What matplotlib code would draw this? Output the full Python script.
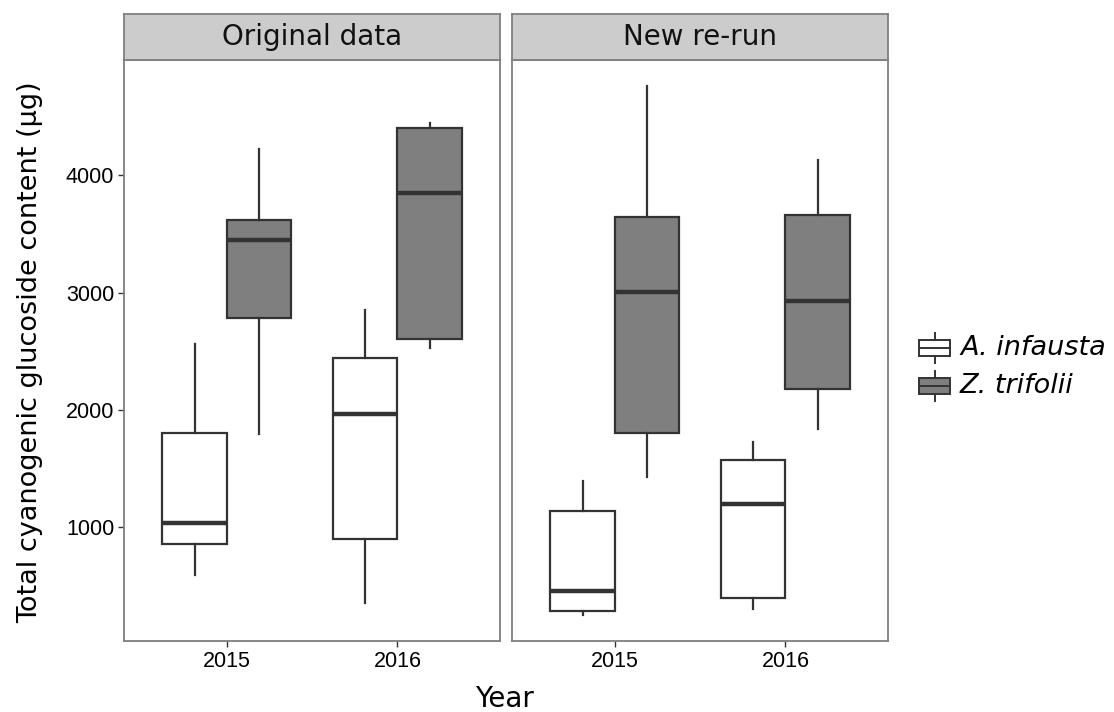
import matplotlib
matplotlib.use("Agg")
import matplotlib.pyplot as plt
from matplotlib.patches import Rectangle

# five-number summaries per year [2015, 2016]: whisker low, Q1, median, Q3, whisker high
panels = ["Original data", "New re-run"]
years = ["2015", "2016"]
species = ["A. infausta", "Z. trifolii"]

orig_infausta = [[588, 852, 1034, 1805, 2564], [352, 901, 1967, 2442, 2855]]
orig_trifolii = [[1791, 2786, 3452, 3616, 4228], [2530, 2607, 3849, 4407, 4446]]
rerun_infausta = [[253, 283, 451, 1140, 1390], [298, 394, 1194, 1575, 1725]]
rerun_trifolii = [[1427, 1805, 3005, 3644, 4759], [1839, 2175, 2928, 3659, 4128]]

yticks = [1000, 2000, 3000, 4000]
fills = ["white", "#7F7F7F"]
line_col = "#333333"
border_col = "#7F7F7F"

W, H = 1114, 712
fig = plt.figure(figsize=(W / 100, H / 100), dpi=100)

all_vals = [v for grp in (orig_infausta, orig_trifolii, rerun_infausta, rerun_trifolii) for s in grp for v in s]
lo, hi = min(all_vals), max(all_vals)
pad = (hi - lo) * 0.05


def make_stats(summary):
    out = []
    for wl, q1, med, q3, wh in summary:
        out.append(dict(whislo=wl, q1=q1, med=med, q3=q3, whishi=wh, fliers=[]))
    return out


def draw_panel(left_px, title, data_sets, show_y):
    ax = fig.add_axes([left_px / W, (H - 641) / H, 376 / W, 581 / H])
    for k, (data, fc) in enumerate(zip(data_sets, fills)):
        offs = -0.1875 if k == 0 else 0.1875
        pos = [1 + offs, 2 + offs]
        ax.bxp(make_stats(data), positions=pos, widths=0.375, showcaps=False,
               showfliers=False, patch_artist=True,
               boxprops=dict(facecolor=fc, edgecolor=line_col, linewidth=1.6),
               whiskerprops=dict(color=line_col, linewidth=1.6),
               medianprops=dict(color=line_col, linewidth=3.2, solid_capstyle="butt"),
               manage_ticks=False)
    ax.set_xlim(0.4, 2.6)
    ax.set_ylim(lo - pad, hi + pad)
    ax.set_xticks([1, 2])
    ax.set_xticklabels(years, fontfamily="Liberation Sans", fontsize=15.5)
    ax.set_yticks(yticks)
    if show_y:
        ax.set_yticklabels([str(t) for t in yticks], fontfamily="Liberation Sans", fontsize=15.5)
        ax.tick_params(axis="y", length=4, width=1, color=line_col, pad=3)
    else:
        ax.tick_params(axis="y", length=0, labelleft=False)
    ax.tick_params(axis="x", length=4, width=1, color=line_col, pad=3)
    for sp in ax.spines.values():
        sp.set_color(border_col)
        sp.set_linewidth(1.3)

    # facet strip
    sax = fig.add_axes([left_px / W, (H - 60) / H, 376 / W, 46 / H])
    sax.set_facecolor("#CCCCCC")
    sax.set_xticks([])
    sax.set_yticks([])
    for sp in sax.spines.values():
        sp.set_color(border_col)
        sp.set_linewidth(1.3)
    sax.text(0.5, 0.5, title, ha="center", va="center", fontsize=20,
             fontfamily="DejaVu Sans", color="#111111", transform=sax.transAxes)
    return ax


draw_panel(124, panels[0], [orig_infausta, orig_trifolii], True)
draw_panel(512, panels[1], [rerun_infausta, rerun_trifolii], False)

fig.text(504 / W, 1 - 699 / H, "Year", ha="center", va="center", fontsize=20,
         fontfamily="DejaVu Sans")
fig.text(30 / W, 1 - 352 / H, "Total cyanogenic glucoside content (\u03bcg)", ha="center",
         va="center", rotation=90, fontsize=19.5, fontfamily="DejaVu Sans")

# legend with boxplot-style keys
lax = fig.add_axes([0, 0, 1, 1], facecolor="none")
lax.set_xlim(0, W)
lax.set_ylim(H, 0)
lax.axis("off")
for k, (name, fc) in enumerate(zip(species, fills)):
    cy = 348 + 38 * k
    lax.add_patch(Rectangle((919, cy - 8), 31, 16, facecolor=fc, edgecolor=line_col, linewidth=1.4))
    lax.plot([919, 950], [cy, cy], color=line_col, linewidth=1.4)
    lax.plot([934.5, 934.5], [cy - 15, cy - 8], color=line_col, linewidth=1.4)
    lax.plot([934.5, 934.5], [cy + 8, cy + 15], color=line_col, linewidth=1.4)
    lax.text(960, cy, name, ha="left", va="center", fontsize=19.5, style="italic",
             fontfamily="DejaVu Sans")

fig.savefig("out.png", dpi=100)
